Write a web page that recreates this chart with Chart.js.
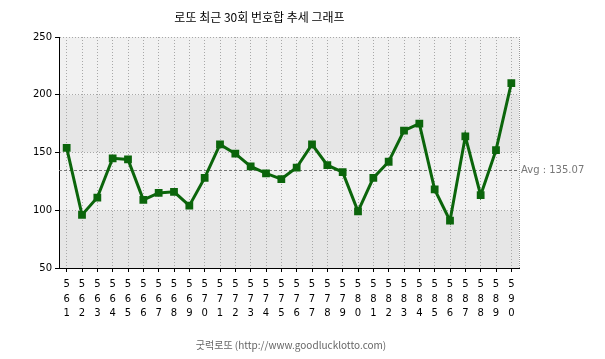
<!DOCTYPE html>
<html>
<head>
<meta charset="utf-8">
<script src="https://cdn.jsdelivr.net/npm/chart.js@4"></script>
<style>
  html, body { margin: 0; padding: 0; background: #fff; }
  #wrap { width: 605px; height: 359px; }
</style>
</head>
<body>
<div id="wrap"><canvas id="sum-graph" width="605" height="359"></canvas></div>
<script>
// draw numbers 561 ~ 590
let rounds = [561, 562, 563, 564, 565, 566, 567, 568, 569, 570,
  571, 572, 573, 574, 575, 576, 577, 578, 579, 580,
  581, 582, 583, 584, 585, 586, 587, 588, 589, 590]
// sum of the 6 numbers per draw
let sums = [154, 96, 111, 145, 144, 109, 115, 116, 104, 128,
  157, 149, 138, 132, 127, 137, 157, 139, 133, 99,
  128, 142, 169, 175, 118, 91, 164, 113, 152, 210]
let yTicks = [50, 100, 150, 200, 250]
let avgValue = 135.07

let titleText = '로또 최근 30회 번호합 추세 그래프'
let footerText = '굿럭로또 (http://www.goodlucklotto.com)'

// labels are drawn as stacked digits: 5 / 6 / 1
let xLabels = rounds.map(r => String(r).split(''))

const green = '#0b650b'
const font = 'DejaVu Sans'

// striped background, dotted right edge, avg line, footer
const bandPlugin = {
  id: 'bands',
  beforeDraw(chart) {
    let { ctx, chartArea, scales } = chart
    let y = scales.y
    ctx.save()
    for (let i = 0; i < yTicks.length - 1; i++) {
      let top = y.getPixelForValue(yTicks[i + 1])
      let bot = y.getPixelForValue(yTicks[i])
      ctx.fillStyle = i % 2 == 0 ? '#e6e6e6' : '#f1f1f1'
      ctx.fillRect(chartArea.left, top, chartArea.right - chartArea.left, bot - top)
    }
    ctx.strokeStyle = '#9a9a9a'
    ctx.lineWidth = 1
    ctx.setLineDash([1, 1])
    ctx.beginPath()
    ctx.moveTo(Math.round(chartArea.right) + 0.5, chartArea.top)
    ctx.lineTo(Math.round(chartArea.right) + 0.5, chartArea.bottom)
    ctx.stroke()
    ctx.restore()
  },
  beforeDatasetsDraw(chart) {
    let { ctx, chartArea, scales } = chart
    let py = Math.round(scales.y.getPixelForValue(avgValue)) + 0.5
    ctx.save()
    ctx.strokeStyle = '#777'
    ctx.lineWidth = 1
    ctx.setLineDash([3, 2])
    ctx.beginPath()
    ctx.moveTo(chartArea.left, py)
    ctx.lineTo(chartArea.right, py)
    ctx.stroke()
    ctx.setLineDash([])
    ctx.fillStyle = '#777'
    ctx.font = '10px ' + font
    ctx.textAlign = 'left'
    ctx.textBaseline = 'middle'
    ctx.fillText('Avg : ' + avgValue.toFixed(2), chartArea.right + 2, py)
    ctx.restore()
  },
  afterDraw(chart) {
    let { ctx } = chart
    ctx.save()
    ctx.fillStyle = '#666'
    ctx.font = '10px "Noto Sans CJK KR"'
    ctx.textAlign = 'center'
    ctx.textBaseline = 'middle'
    ctx.fillText(footerText, 291, 345)
    ctx.restore()
  }
}

let sumChart = new Chart('sum-graph', {
  type: 'line',
  data: {
    labels: xLabels,
    datasets: [
      {
        data: sums,
        borderColor: green,
        backgroundColor: green,
        borderWidth: 3,
        pointStyle: 'rect',
        pointRadius: 5.5,
        pointHoverRadius: 5.5,
        pointBorderWidth: 0,
        tension: 0
      }
    ]
  },
  options: {
    responsive: false,
    animation: false,
    layout: { padding: { left: 0, right: 86, top: 0, bottom: 28 } },
    plugins: {
      legend: { display: false },
      tooltip: { enabled: false },
      title: {
        display: true,
        text: titleText,
        color: '#000',
        font: { family: 'Noto Sans CJK KR', size: 12, weight: 'normal' },
        padding: { top: 10, bottom: 12.6 }
      }
    },
    scales: {
      x: {
        offset: true,
        grid: {
          color: '#a8a8a8',
          offset: false,
          tickLength: 4,
          tickColor: '#000',
          tickBorderDash: []
        },
        border: { color: '#000', width: 1, dash: [1, 2] },
        ticks: {
          color: '#000',
          padding: 5,
          maxRotation: 0,
          autoSkip: false,
          font: { family: font, size: 10, lineHeight: 1.47 }
        },
        afterFit(scale) { scale.height = 63 }
      },
      y: {
        min: 50,
        max: 250,
        grid: {
          color: '#a8a8a8',
          tickLength: 4,
          tickColor: '#000',
          tickBorderDash: []
        },
        border: { color: '#000', width: 1, dash: [1, 2] },
        ticks: {
          color: '#000',
          stepSize: 50,
          padding: 3,
          font: { family: font, size: 10 }
        },
        afterFit(scale) { scale.width = 59 }
      }
    }
  },
  plugins: [bandPlugin]
})
</script>
</body>
</html>
